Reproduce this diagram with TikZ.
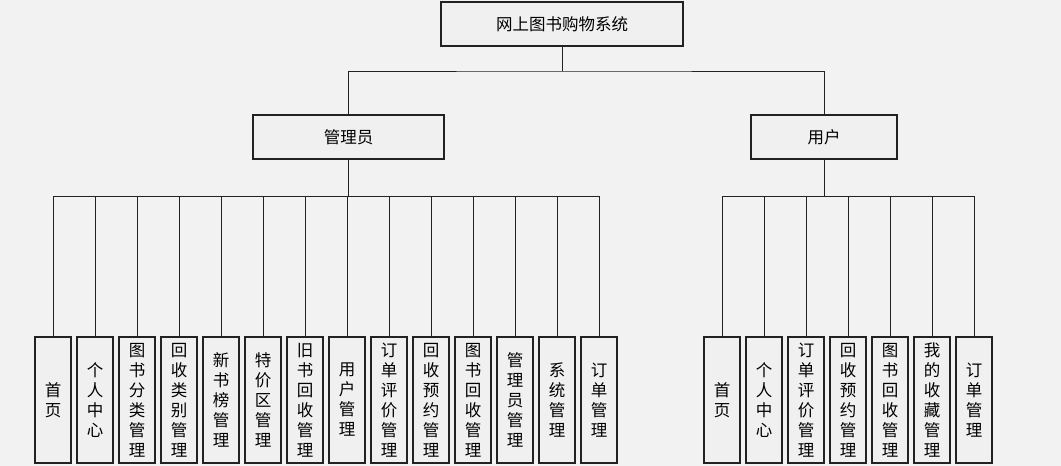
\documentclass[tikz,border=0pt]{standalone}
\usepackage{fontspec}
\newfontfamily\cjk{Noto Sans CJK SC}
\definecolor{bg}{HTML}{F2F2F2}
\definecolor{boxfill}{HTML}{F0F0F0}
\definecolor{edgecol}{HTML}{222222}
\begin{document}
\begin{tikzpicture}[x=1pt,y=-1pt,
  box/.style={draw=edgecol, fill=boxfill, line width=1.1pt, inner sep=0pt, align=center,
    font=\cjk\fontsize{16.5}{20}\selectfont},
  leafbox/.style={box, minimum width=36pt, minimum height=126pt},
  conn/.style={draw=edgecol, line width=0.9pt}]
\fill[bg] (0,0) rectangle (1061,466);
\useasboundingbox (0,0) rectangle (1061,466);
\node[box, minimum width=242pt, minimum height=44pt] (top) at (562,24) {网上图书购物系统};
\node[box, minimum width=191pt, minimum height=44pt] (admin) at (348.5,137) {管理员};
\node[box, minimum width=146pt, minimum height=44pt] (user) at (824,137) {用户};
\coordinate (j1) at (562,71);
\coordinate (ab) at (348.5,196);
\coordinate (ub) at (824,196);
\draw[conn] (top.south) -- (j1);
\draw[conn] (admin.north) |- (j1) -| (user.north);
\draw[conn] (admin.south) -- (ab);
\draw[conn] (user.south) -- (ub);
\foreach \t [count=\i from 0] in {首\\页, 个\\人\\中\\心, 图\\书\\分\\类\\管\\理, 回\\收\\类\\别\\管\\理,
  新\\书\\榜\\管\\理, 特\\价\\区\\管\\理, 旧\\书\\回\\收\\管\\理, 用\\户\\管\\理,
  订\\单\\评\\价\\管\\理, 回\\收\\预\\约\\管\\理, 图\\书\\回\\收\\管\\理, 管\\理\\员\\管\\理,
  系\\统\\管\\理, 订\\单\\管\\理} {
  \node[leafbox] (a\i) at ({53+42*\i},400) {\t};
  \draw[conn] (a\i.north) |- (ab);
}
\foreach \t [count=\i from 0] in {首\\页, 个\\人\\中\\心, 订\\单\\评\\价\\管\\理, 回\\收\\预\\约\\管\\理,
  图\\书\\回\\收\\管\\理, 我\\的\\收\\藏\\管\\理, 订\\单\\管\\理} {
  \node[leafbox] (u\i) at ({722+42*\i},400) {\t};
  \draw[conn] (u\i.north) |- (ub);
}
\end{tikzpicture}
\end{document}
